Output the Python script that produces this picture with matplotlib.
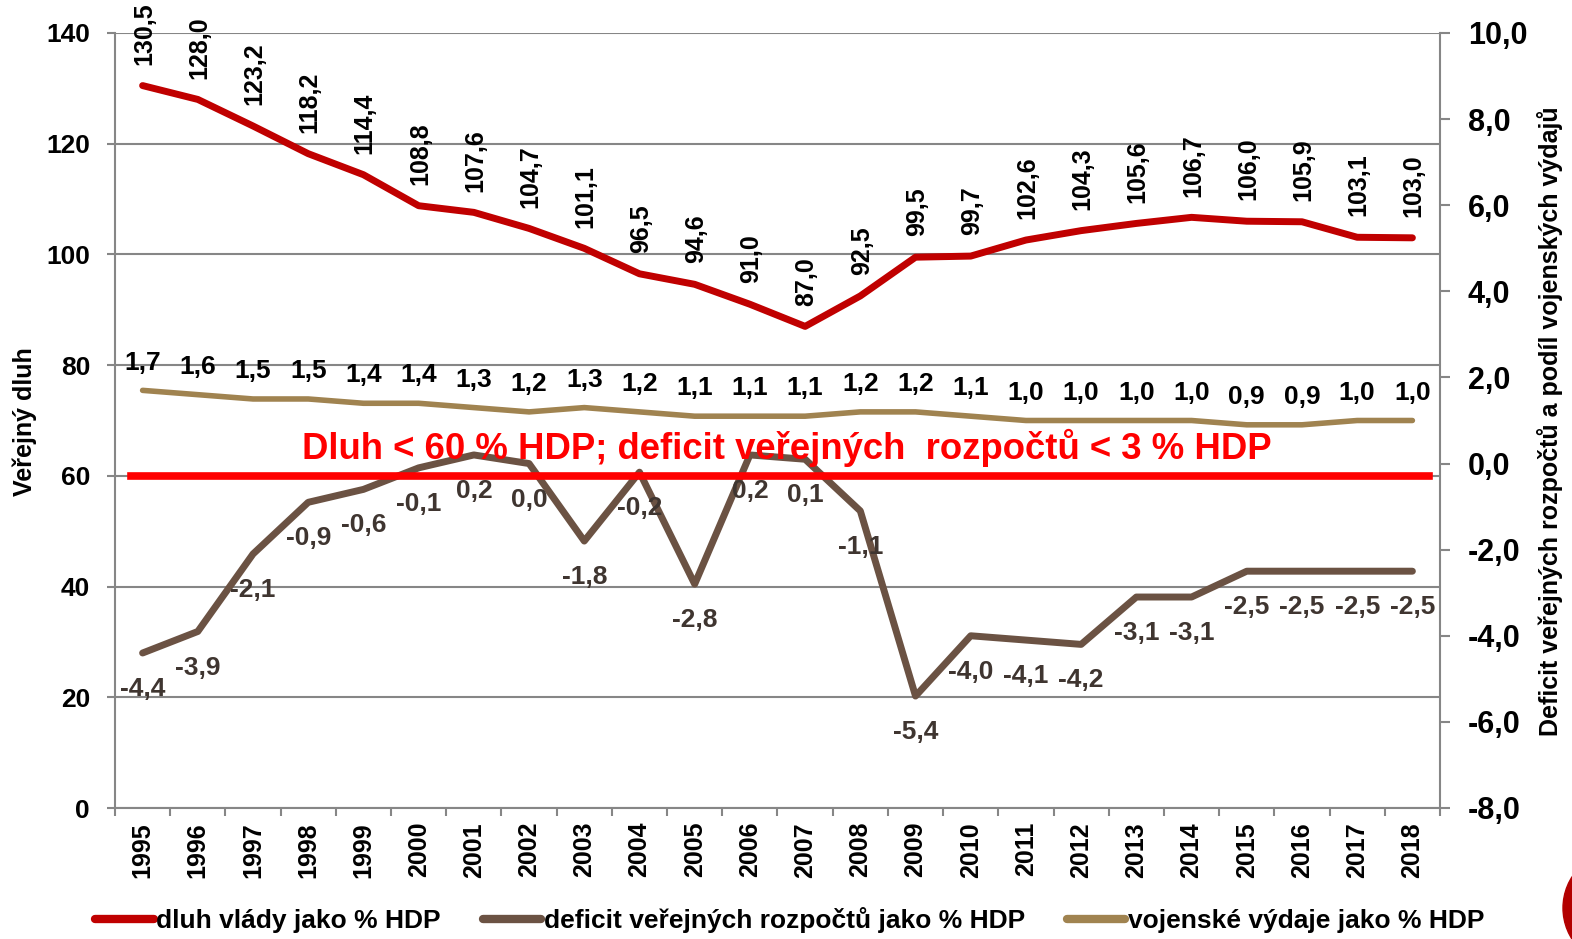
import matplotlib
matplotlib.use("Agg")
import matplotlib.pyplot as plt
from matplotlib.lines import Line2D
from matplotlib.patches import Circle
from matplotlib.ticker import FixedLocator, FuncFormatter
from matplotlib.transforms import blended_transform_factory

plt.rcParams["font.family"] = ["Liberation Sans", "DejaVu Sans"]
plt.rcParams["font.weight"] = "bold"

years = [str(y) for y in range(1995, 2019)]
debt = [130.5, 128.0, 123.2, 118.2, 114.4, 108.8, 107.6, 104.7, 101.1, 96.5, 94.6, 91.0,
        87.0, 92.5, 99.5, 99.7, 102.6, 104.3, 105.6, 106.7, 106.0, 105.9, 103.1, 103.0]
deficit = [-4.4, -3.9, -2.1, -0.9, -0.6, -0.1, 0.2, 0.0, -1.8, -0.2, -2.8, 0.2,
           0.1, -1.1, -5.4, -4.0, -4.1, -4.2, -3.1, -3.1, -2.5, -2.5, -2.5, -2.5]
military = [1.7, 1.6, 1.5, 1.5, 1.4, 1.4, 1.3, 1.2, 1.3, 1.2, 1.1, 1.1,
            1.1, 1.2, 1.2, 1.1, 1.0, 1.0, 1.0, 1.0, 0.9, 0.9, 1.0, 1.0]
debt_limit = 60

RED = "#c00000"
BROWN = "#6b5243"
TAN = "#a08350"
GRID = "#868686"


def fmt(v):
    return f"{v:.1f}".replace(".", ",")


fig = plt.figure(figsize=(15.72, 9.39), dpi=100)
ax = fig.add_axes([115 / 1572, 131 / 939, 1325 / 1572, 775 / 939])
ax2 = ax.twinx()

x = list(range(len(years)))

# left axis: public debt
ax.plot(x, debt, color=RED, lw=5, solid_capstyle="round", solid_joinstyle="round", zorder=3)
ax.set_ylim(0, 140)
ax.set_yticks(range(0, 141, 20))
ax.yaxis.grid(True, color=GRID, lw=1.5)
ax.set_axisbelow(True)
ax.set_xlim(-0.5, len(years) - 0.5)
ax.xaxis.set_major_locator(FixedLocator([i - 0.5 for i in range(len(years) + 1)]))
ax.xaxis.set_major_formatter(FuncFormatter(lambda v, p: ""))
ax.xaxis.set_minor_locator(FixedLocator(x))
ax.set_xticklabels(years, minor=True, rotation=90, fontsize=18, fontweight="bold")
ax.tick_params(axis="x", which="major", length=6, width=1.5, color=GRID, direction="out")
ax.tick_params(axis="x", which="minor", length=0, pad=10)
ax.tick_params(axis="y", length=6, width=1.5, color=GRID, labelsize=19, pad=12)
for s in ("left", "bottom"):
    ax.spines[s].set_color(GRID)
    ax.spines[s].set_linewidth(1.5)
ax.spines["top"].set_visible(False)
ax.spines["right"].set_visible(False)

for xi, v in zip(x, debt):
    ax.annotate(fmt(v), (xi, v), xytext=(1, 15), textcoords="offset points",
                rotation=90, ha="center", va="bottom", fontsize=18, fontweight="bold",
                annotation_clip=False)

# right axis: deficit and military spending
ax2.plot(x, deficit, color=BROWN, lw=5, solid_capstyle="round", solid_joinstyle="round", zorder=3)
ax2.plot(x, military, color=TAN, lw=4, solid_capstyle="round", solid_joinstyle="round", zorder=3)
ax2.set_ylim(-8, 10)
ax2.set_yticks(range(-8, 11, 2))
ax2.yaxis.set_major_formatter(FuncFormatter(lambda v, p: fmt(v)))
ax2.tick_params(axis="y", length=7, width=1.5, color=GRID, labelsize=22, pad=13)
ax2.spines["right"].set_color(GRID)
ax2.spines["right"].set_linewidth(1.5)
for s in ("left", "top", "bottom"):
    ax2.spines[s].set_visible(False)

for xi, v in zip(x, deficit):
    ax2.annotate(fmt(v), (xi, v), xytext=(0, -26), textcoords="offset points",
                 ha="center", va="center", fontsize=19, fontweight="bold", color="#3f3530")
for xi, v in zip(x, military):
    ax2.annotate(fmt(v), (xi, v), xytext=(0, 15), textcoords="offset points",
                 ha="center", va="baseline", fontsize=19, fontweight="bold", color="black")

# 60 % debt criterion, drawn above the deficit line
limit_tr = blended_transform_factory(ax2.transAxes, ax.transData)
ax2.plot([0.012, 0.992], [debt_limit, debt_limit], transform=limit_tr,
         color="#ff0000", lw=5.5, zorder=5)
ax2.text(0.507, 0.4645, "Dluh < 60 % HDP; deficit veřejných  rozpočtů < 3 % HDP",
         transform=ax2.transAxes, ha="center", va="center", color="#ff0000",
         fontsize=26.3, fontweight="bold", zorder=6)

fig.text(25 / 1572, 1 - 422 / 939, "Veřejný dluh", rotation=90, ha="center", va="center",
         fontsize=18, fontweight="bold")
fig.text(1550 / 1572, 1 - 421 / 939, "Deficit veřejných rozpočtů a podíl vojenských výdajů",
         rotation=90, ha="center", va="center", fontsize=18, fontweight="bold")

handles = [Line2D([], [], color=c, lw=6, solid_capstyle="round") for c in (RED, BROWN, TAN)]
labels = ["dluh vlády jako % HDP", "deficit veřejných rozpočtů jako % HDP",
          "vojenské výdaje jako % HDP"]
fig.legend(handles, labels, loc="center", bbox_to_anchor=(0.5025, 1 - 920 / 939), ncol=3,
           frameon=False, handlelength=2.2, handletextpad=0.1,
           columnspacing=1.6, prop={"weight": "bold", "size": 19})

fig.patches.append(Circle((16.21, 0.31), 0.58, transform=fig.dpi_scale_trans,
                          color="#b30000", figure=fig))

fig.savefig("out.png", dpi=100)
